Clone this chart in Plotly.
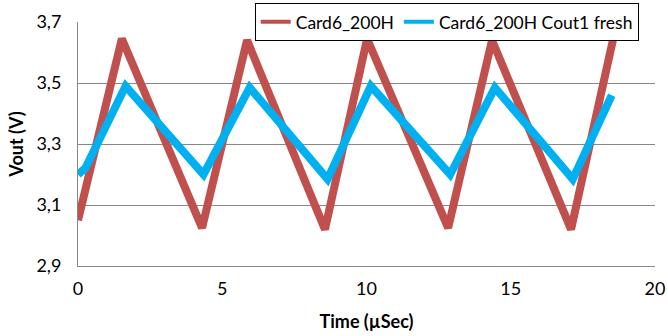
import plotly.graph_objects as go

# Red series (Card6_200H): vertex points
red_x = [0.0, 1.52, 4.30, 5.86, 8.56, 10.02, 12.83, 14.35, 17.09, 18.55]
red_y = [3.05, 3.645, 3.025, 3.64, 3.02, 3.645, 3.025, 3.64, 3.02, 3.645]

# Blue series (Card6_200H Cout1 fresh)
blue_x = [0.0, 0.25, 1.65, 4.35, 5.95, 8.65, 10.15, 12.9, 14.45, 17.15, 18.5]
blue_y = [3.2, 3.22, 3.49, 3.2, 3.485, 3.185, 3.49, 3.2, 3.485, 3.185, 3.46]

series_names = ["Card6_200H", "Card6_200H Cout1 fresh"]
series_colors = ["#C0504D", "#00B0F0"]

x_ticks = [0, 5, 10, 15, 20]
y_ticks = [2.9, 3.1, 3.3, 3.5, 3.7]

FONT = "Lato"

fig = go.Figure()
fig.add_trace(go.Scatter(x=red_x, y=red_y, mode="lines", name=series_names[0],
                         showlegend=False, line=dict(color=series_colors[0], width=8)))
fig.add_trace(go.Scatter(x=blue_x, y=blue_y, mode="lines", name=series_names[1],
                         showlegend=False, line=dict(color=series_colors[1], width=8)))
# legend entries with thinner sample lines
for nm, col in zip(series_names, series_colors):
    fig.add_trace(go.Scatter(x=[None], y=[None], mode="lines", name=nm,
                             line=dict(color=col, width=4)))

fig.update_layout(
    width=668, height=336,
    margin=dict(l=78, r=13, t=22, b=70, autoexpand=False),
    paper_bgcolor="white", plot_bgcolor="white",
    separators=",.",
    font=dict(family=FONT, size=18, color="black"),
    showlegend=True,
    legend=dict(orientation="h", x=0.639, y=1.078, xanchor="center", yanchor="top",
                bgcolor="white", bordercolor="black", borderwidth=1,
                font=dict(family=FONT, size=17.5), tracegroupgap=0,
                itemwidth=30),
    xaxis=dict(range=[0, 20], tickvals=x_ticks, showgrid=False,
               showline=True, linecolor="#888888", linewidth=1, ticks="",
               zeroline=False, tickfont=dict(size=18), ticklabelstandoff=6,
               title=dict(text="<b>Time (µSec)</b>", font=dict(size=18), standoff=17)),
    yaxis=dict(range=[2.9, 3.7], tickvals=y_ticks, tickformat=".1f",
               showgrid=True, gridcolor="#888888", gridwidth=1,
               showline=True, linecolor="#888888", linewidth=1, ticks="",
               zeroline=False, tickfont=dict(size=18), ticklabelstandoff=12,
               title=dict(text="<b>Vout (V)</b>", font=dict(size=18), standoff=8)),
)

fig.write_html("out.html", config={"displayModeBar": False},
               post_script="document.body.style.margin='0';")
